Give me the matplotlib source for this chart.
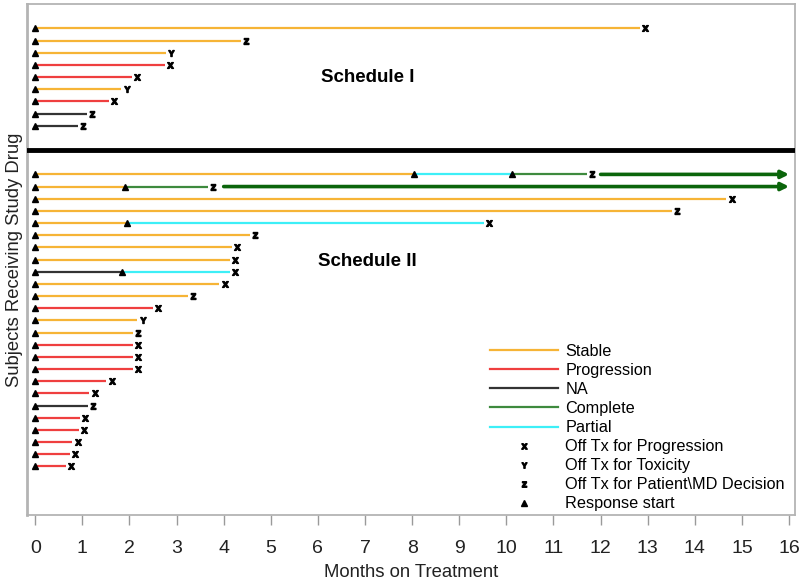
# =========================================
# Swimmer plot - months on treatment
# =========================================

import numpy as np
import matplotlib.pyplot as plt
from matplotlib.lines import Line2D

# -----------------------------------------
# Data
# -----------------------------------------
# Schedule I subjects (top to bottom)
sched1_end = [12.83, 4.37, 2.78, 2.76, 2.06, 1.83, 1.57, 1.10, 0.90]
sched1_resp = ['Stable', 'Stable', 'Stable', 'Progression', 'Progression',
               'Stable', 'Progression', 'NA', 'NA']
sched1_off = ['x', 'z', 'y', 'x', 'x', 'y', 'x', 'z', 'z']

# Schedule II subjects (top to bottom)
sched2_end = [11.71, 3.67, 14.67, 13.52, 9.52, 4.56, 4.18, 4.14, 4.14, 3.91,
              3.24, 2.50, 2.17, 2.07, 2.07, 2.07, 2.07, 1.51, 1.15, 1.12,
              0.95, 0.92, 0.79, 0.73, 0.65]
sched2_resp = ['Stable', 'Stable', 'Stable', 'Stable', 'Stable', 'Stable',
               'Stable', 'Stable', 'NA', 'Stable', 'Stable', 'Progression',
               'Stable', 'Stable', 'Progression', 'Progression', 'Progression',
               'Progression', 'Progression', 'NA', 'Progression', 'Progression',
               'Progression', 'Progression', 'Progression']
sched2_off = ['z', 'z', 'x', 'z', 'x', 'z', 'x', 'x', 'x', 'x', 'z', 'x', 'y',
              'z', 'x', 'x', 'x', 'x', 'x', 'z', 'x', 'x', 'x', 'x', 'x']

# response changes in Schedule II (subject index, month, new response)
change_subject = [0, 0, 1, 4, 8]
change_time = [8.04, 10.11, 1.91, 1.95, 1.85]
change_resp = ['Partial', 'Complete', 'Complete', 'Partial', 'Partial']

# continuing responders (arrows)
arrow_subject = [0, 1]
arrow_start = [12.0, 4.0]
arrow_end = [16.0, 16.0]

colors = {'Stable': '#F6B436', 'Progression': '#EF3F3F', 'NA': '#333333',
          'Complete': '#3E8A3E', 'Partial': '#3DEFF7'}
off_marker = {'x': r'$\mathsf{x}$', 'y': r'$\mathsf{Y}$', 'z': r'$\mathsf{z}$'}
off_label = {'x': 'Off Tx for Progression', 'y': 'Off Tx for Toxicity',
             'z': 'Off Tx for Patient\\MD Decision'}

plt.rcParams['font.family'] = ['Liberation Sans', 'DejaVu Sans']
plt.rcParams['mathtext.fontset'] = 'custom'
plt.rcParams['mathtext.sf'] = 'Liberation Sans:bold'

fig = plt.figure(figsize=(8, 5.83), dpi=100)
ax = fig.add_axes([0.034, 0.1166, 0.96, 0.8764])

y1 = np.arange(40, 40 - len(sched1_end), -1)
y2 = np.arange(28, 28 - len(sched2_end), -1)


def draw_subject(y, end, resp, off, changes):
    # changes: list of (time, response)
    pts = [(0.0, resp)] + changes
    for i, (t0, r) in enumerate(pts):
        t1 = pts[i + 1][0] if i + 1 < len(pts) else end
        ax.plot([t0, t1], [y, y], color=colors[r], lw=1.6, solid_capstyle='butt', zorder=2)
        ax.plot(t0, y, marker='^', color='black', ms=4.2, zorder=4)
    ax.plot(end + 0.11, y, marker=off_marker[off], color='black', ms=4.3, zorder=4)


for i in range(len(sched1_end)):
    draw_subject(y1[i], sched1_end[i], sched1_resp[i], sched1_off[i], [])

for i in range(len(sched2_end)):
    ch = [(change_time[k], change_resp[k]) for k in range(len(change_subject))
          if change_subject[k] == i]
    draw_subject(y2[i], sched2_end[i], sched2_resp[i], sched2_off[i], ch)

for k in range(len(arrow_subject)):
    yy = y2[arrow_subject[k]]
    ax.annotate('', xy=(arrow_end[k], yy), xytext=(arrow_start[k], yy),
                arrowprops=dict(arrowstyle='-|>', color='#0B650B', lw=2.6,
                                mutation_scale=11, shrinkA=0, shrinkB=0))

# separator between schedules
ax.axhline(30, color='black', lw=3.5, zorder=3)

ax.text(7.05, 36, 'Schedule I', fontsize=13.5, fontweight='bold', ha='center', va='center')
ax.text(7.05, 20.8, 'Schedule II', fontsize=13.5, fontweight='bold', ha='center', va='center')

# -----------------------------------------
# Axes styling
# -----------------------------------------
ax.set_xlim(-0.17, 16.13)
ax.set_ylim(0, 42)
ax.set_xticks(range(0, 17))
ax.set_yticks([])
for s in ax.spines.values():
    s.set_color('#b4b4b4')
    s.set_linewidth(1.3)
ax.spines['left'].set_linewidth(2)
ax.tick_params(axis='x', colors='#9a9a9a', length=7, width=1, labelsize=14,
               labelcolor='#222222', pad=11)
ax.set_xlabel('Months on Treatment', fontsize=13.3, color='#222222', labelpad=5)
ax.set_ylabel('Subjects Receiving Study Drug', fontsize=13.3, color='#222222', labelpad=3)

# -----------------------------------------
# Legend
# -----------------------------------------
handles = [Line2D([], [], color=colors[r], lw=1.6) for r in colors]
labels = list(colors.keys())
for k in ['x', 'y', 'z']:
    handles.append(Line2D([], [], ls='none', marker=off_marker[k], color='black', ms=4))
    labels.append(off_label[k])
handles.append(Line2D([], [], ls='none', marker='^', color='black', ms=3.8))
labels.append('Response start')

ax.legend(handles, labels, loc='upper left', bbox_to_anchor=(0.6125, 0.41),
          bbox_transform=fig.transFigure, frameon=False, fontsize=11.7,
          handlelength=4.2, handletextpad=0.43, labelspacing=0.25,
          borderpad=0, borderaxespad=0, numpoints=1)

fig.savefig('out.png', dpi=100)
